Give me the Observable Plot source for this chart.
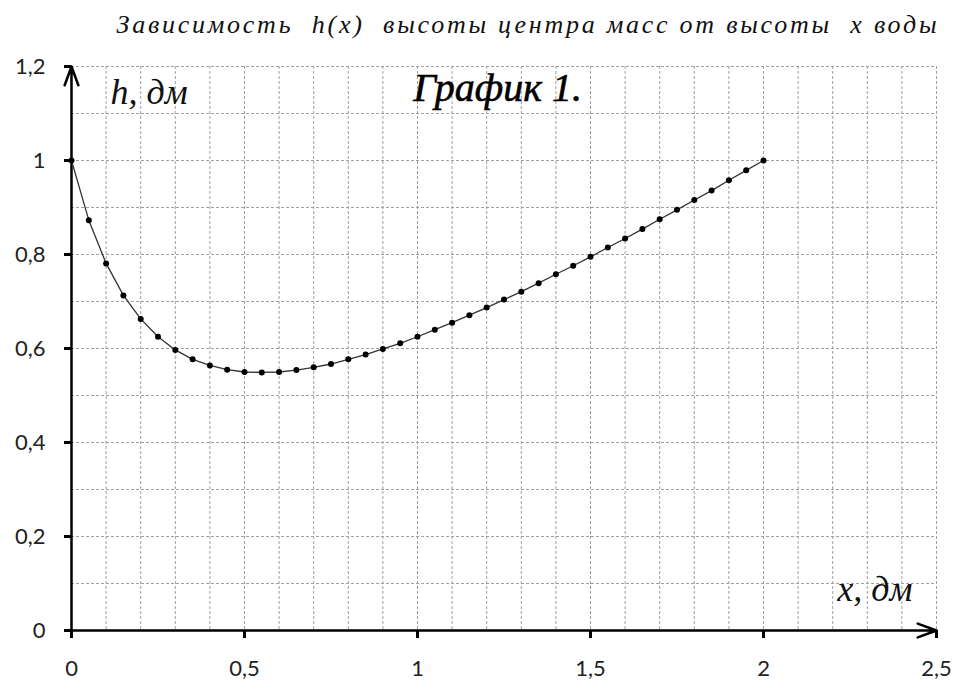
<!DOCTYPE html>
<html><head><meta charset="utf-8">
<script src="https://cdn.jsdelivr.net/npm/d3@7"></script>
<script src="https://cdn.jsdelivr.net/npm/@observablehq/plot@0.6"></script>
<style>
body{margin:0;background:#fff}
svg text{white-space:pre}
</style>
</head><body><div id="chart"></div>
<script>
// x — высота воды, дм
const xValues = [0,0.05,0.1,0.15,0.2,0.25,0.3,0.35,0.4,0.45,0.5,0.55,0.6,0.65,0.7,0.75,0.8,0.85,0.9,0.95,1,
  1.05,1.1,1.15,1.2,1.25,1.3,1.35,1.4,1.45,1.5,1.55,1.6,1.65,1.7,1.75,1.8,1.85,1.9,1.95,2];
// h — высота центра масс, дм
const hValues = [1,0.873,0.781,0.713,0.663,0.625,0.597,0.577,0.564,0.555,0.550,0.549,0.550,0.554,0.560,0.567,0.577,0.587,0.599,0.611,0.625,
  0.640,0.655,0.671,0.687,0.704,0.721,0.739,0.758,0.776,0.795,0.815,0.834,0.854,0.875,0.895,0.916,0.936,0.958,0.979,1];
const xTicks = [0,0.5,1,1.5,2,2.5];
const yTicks = [0,0.2,0.4,0.6,0.8,1,1.2];
const xGrid = [0.1,0.2,0.3,0.4,0.5,0.6,0.7,0.8,0.9,1,1.1,1.2,1.3,1.4,1.5,1.6,1.7,1.8,1.9,2,2.1,2.2,2.3,2.4,2.5];
const yGrid = [0.1,0.2,0.3,0.4,0.5,0.6,0.7,0.8,0.9,1,1.1,1.2];
const titleText = "Зависимость  h(x)  высоты центра масс от высоты  x воды";
const chartLabel = "График 1.";
const yLabel = "h, дм";
const xLabel = "x, дм";

const data = xValues.map((x, i) => ({x, h: hValues[i]}));
const fmt = d => String(d).replace(".", ",");
const serif = "'Liberation Serif', 'Times New Roman', serif";

const chart = Plot.plot({
  width: 958, height: 684,
  marginLeft: 71, marginRight: 22, marginTop: 66, marginBottom: 54,
  x: {domain: [0, 2.5]},
  y: {domain: [0, 1.2]},
  style: {fontFamily: "Lato, 'Open Sans', sans-serif", fontSize: "22px", color: "#000", background: "#fff", overflow: "visible"},
  marks: [
    Plot.gridX(xGrid, {stroke: "#a0a0a0", strokeOpacity: 1, strokeDasharray: "3,2", strokeWidth: 1}),
    Plot.gridY(yGrid, {stroke: "#a0a0a0", strokeOpacity: 1, strokeDasharray: "3,2", strokeWidth: 1}),
    Plot.axisX(xTicks, {tickSize: 8, tickPadding: 22, tickFormat: fmt, strokeWidth: 3, label: null, fontSize: 22, fill: "#222"}),
    Plot.axisY(yTicks, {tickSize: 7, tickPadding: 19, tickFormat: fmt, strokeWidth: 3, label: null, fontSize: 22, fill: "#222"}),
    Plot.arrow([{x1: 0, y1: 0, x2: 2.5, y2: 0}], {x1: "x1", y1: "y1", x2: "x2", y2: "y2", stroke: "#000", strokeWidth: 2.5, headLength: 12, headAngle: 40}),
    Plot.arrow([{x1: 0, y1: 0, x2: 0, y2: 1.2}], {x1: "x1", y1: "y1", x2: "x2", y2: "y2", stroke: "#000", strokeWidth: 2.5, headLength: 12, headAngle: 40}),
    Plot.line(data, {x: "x", y: "h", stroke: "#333", strokeWidth: 1.3}),
    Plot.dot(data, {x: "x", y: "h", r: 3, fill: "#000", stroke: "none"}),
    Plot.text([titleText], {text: d => d, frameAnchor: "top-right", textAnchor: "end", lineAnchor: "bottom", dy: -34, fontFamily: serif, fontStyle: "italic", fontSize: 26, fill: "#111"}),
    Plot.text([yLabel], {text: d => d, frameAnchor: "top-left", textAnchor: "start", lineAnchor: "bottom", dx: 39, dy: 37, fontFamily: serif, fontStyle: "italic", fontSize: 36, fill: "#111"}),
    Plot.text([chartLabel], {text: d => d, frameAnchor: "top-left", textAnchor: "middle", lineAnchor: "bottom", dx: 426, dy: 34, fontFamily: serif, fontStyle: "italic", fontSize: 40, fill: "#000", stroke: "#000", strokeWidth: 0.6}),
    Plot.text([xLabel], {text: d => d, frameAnchor: "bottom-right", textAnchor: "end", lineAnchor: "bottom", dx: -24, dy: -30, fontFamily: serif, fontStyle: "italic", fontSize: 36, fill: "#111"})
  ]
});
document.getElementById("chart").appendChild(chart);
// stretch the title across the same span as in the original
d3.select(chart).selectAll("text").filter(function() { return this.textContent === titleText; })
  .attr("textLength", 820).attr("lengthAdjust", "spacing");
</script>
</body></html>
